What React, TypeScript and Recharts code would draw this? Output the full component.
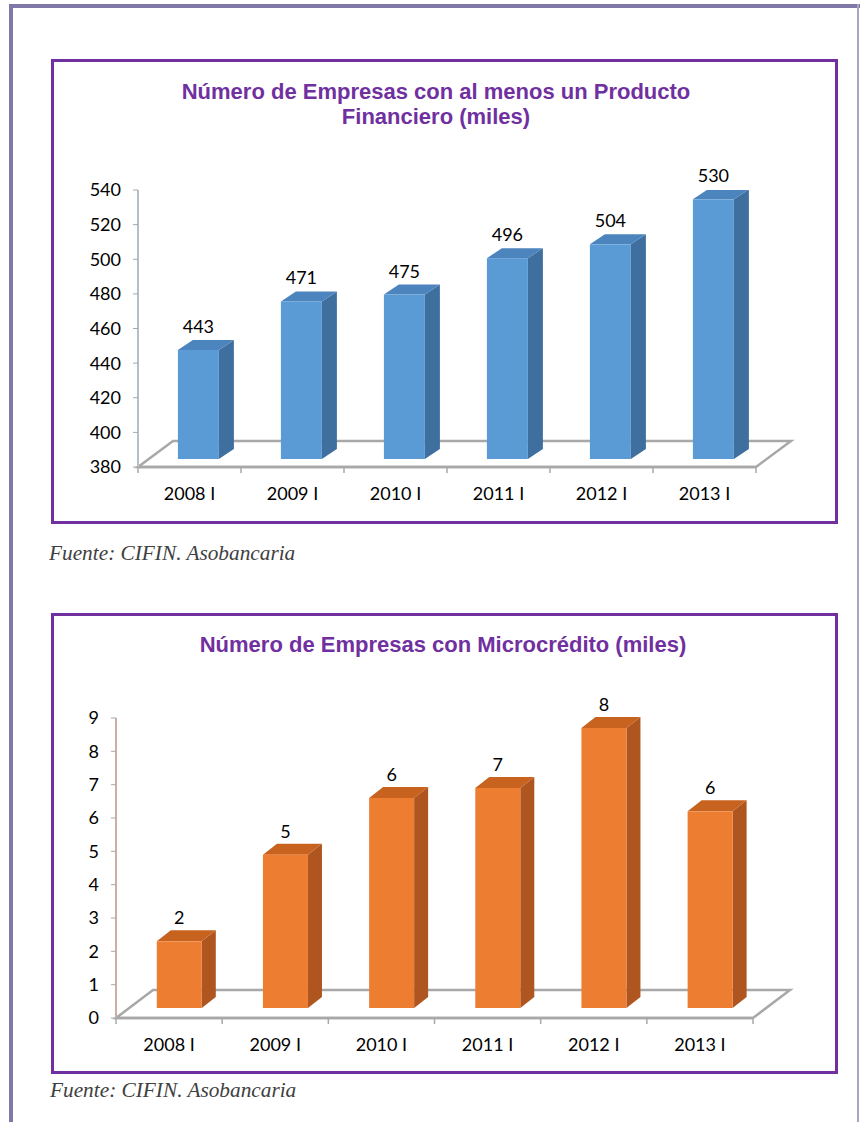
import React from 'react';
import { BarChart, Bar, XAxis, YAxis, ReferenceLine, LabelList } from 'recharts';

const categories = ['2008 I', '2009 I', '2010 I', '2011 I', '2012 I', '2013 I'];
const empresasProducto = [443, 471, 475, 496, 504, 530];
const empresasMicrocredito = [2.0, 4.6, 6.3, 6.6, 8.4, 5.9];
const ticksProducto = [380, 400, 420, 440, 460, 480, 500, 520, 540];
const ticksMicro = [0, 1, 2, 3, 4, 5, 6, 7, 8, 9];

const title1a = 'Número de Empresas con al menos un Producto';
const title1b = 'Financiero (miles)';
const title2 = 'Número de Empresas con Microcrédito (miles)';
const fuente = 'Fuente: CIFIN. Asobancaria';

const data1 = categories.map((c, i) => ({ cat: c, v: empresasProducto[i] }));
const data2 = categories.map((c, i) => ({ cat: c, v: empresasMicrocredito[i] }));

const PURPLE = '#7030A0';
const FONT = 'Lato, "Open Sans", sans-serif';

type Geo = { ox: number; oy: number; dx: number; dy: number; front: string; side: string; top: string };

const make3DBar = (g: Geo) => (props: any) => {
  const { x, y, width, height } = props;
  if (x == null || width == null || height == null) return null;
  const fx = x + g.ox;
  const fy = y + g.oy;
  const bottom = fy + height;
  const r = fx + width;
  return (
    <g>
      <polygon
        points={`${r},${fy} ${r + g.dx},${fy + g.dy} ${r + g.dx},${bottom + g.dy} ${r},${bottom}`}
        fill={g.side}
      />
      <polygon
        points={`${fx},${fy} ${fx + g.dx},${fy + g.dy} ${r + g.dx},${fy + g.dy} ${r},${fy}`}
        fill={g.top}
      />
      <rect x={fx} y={fy} width={width} height={height} fill={g.front} />
    </g>
  );
};

const makeLabel = (g: Geo) => (props: any) => {
  const { x, y, width, value } = props;
  if (x == null) return null;
  return (
    <text
      x={x + g.ox + width / 2}
      y={y + g.oy - 17}
      textAnchor="middle"
      fontSize={18}
      fontFamily={FONT}
      fill="#000"
    >
      {Math.round(Number(value))}
    </text>
  );
};

const makeFloor = (dx: number, dy: number) => (props: any) => {
  const { x1, y1, x2, y2 } = props;
  if (x1 == null) return null;
  return (
    <polygon
      points={`${x1},${y1} ${x1 + dx},${y1 + dy} ${x2 + dx},${y2 + dy} ${x2},${y2}`}
      fill="none"
      stroke="#a8a8a8"
      strokeWidth={2.5}
    />
  );
};

const makeXTick = (fallbackHalf: number, last: number) => (props: any) => {
  const { x, y, payload, index } = props;
  const half = payload && payload.offset ? payload.offset : fallbackHalf;
  return (
    <g>
      <line x1={x - half} y1={y} x2={x - half} y2={y + 6} stroke="#a8a8a8" strokeWidth={1.5} />
      {index === last && (
        <line x1={x + half} y1={y} x2={x + half} y2={y + 6} stroke="#a8a8a8" strokeWidth={1.5} />
      )}
      <text x={x} y={y + 33} textAnchor="middle" fontSize={18} fontFamily={FONT} fill="#000">
        {payload.value}
      </text>
    </g>
  );
};

const geo1: Geo = { ox: 9, oy: -8, dx: 15, dy: -10, front: '#5B9BD5', side: '#3F6F9E', top: '#4C84BE' };
const geo2: Geo = { ox: 10, oy: -10, dx: 14, dy: -11, front: '#ED7D31', side: '#AE5520', top: '#C7631F' };

const abs = (l: number, t: number, w: number, h: number): React.CSSProperties => ({
  position: 'absolute',
  left: l,
  top: t,
  width: w,
  height: h,
});

const titleStyle: React.CSSProperties = {
  textAlign: 'center',
  color: PURPLE,
  fontFamily: '"Liberation Sans", Arial, sans-serif',
  fontWeight: 'bold',
  fontSize: 22,
  lineHeight: '25px',
};

const fuenteStyle: React.CSSProperties = {
  fontFamily: '"Liberation Serif", "Times New Roman", serif',
  fontStyle: 'italic',
  fontSize: 21.3,
  lineHeight: '24px',
  color: '#404040',
};

export default function App() {
  return (
    <div style={{ position: 'absolute', left: 0, top: 0, width: 860, height: 1122, background: '#fff', overflow: 'hidden' }}>
      {/* page frame */}
      <div style={{ ...abs(9, 4, 851, 4), background: '#8078A8' }} />
      <div style={{ ...abs(9, 4, 4, 1118), background: '#8078A8' }} />
      <div style={{ ...abs(857, 4, 2, 1118), background: '#A9A3C6' }} />

      {/* chart 1 box */}
      <div style={{ ...abs(51, 59, 787, 465), border: `3px solid ${PURPLE}`, boxSizing: 'border-box' }} />
      <div style={{ ...abs(136, 79, 600, 60), ...titleStyle }}>
        <div>{title1a}</div>
        <div>{title1b}</div>
      </div>
      <div style={{ ...abs(52, 60, 785, 463) }}>
        <BarChart
          width={785}
          height={463}
          data={data1}
          margin={{ top: 130, right: 81, bottom: 26, left: 26 }}
          barCategoryGap="30%"
          style={{ fontFamily: FONT }}
        >
          <XAxis
            dataKey="cat"
            height={30}
            interval={0}
            axisLine={{ stroke: '#a8a8a8', strokeWidth: 2.5 }}
            tickLine={false}
            tickSize={0}
            tickMargin={0}
            tick={makeXTick(51.25, categories.length - 1)}
          />
          <YAxis
            width={60}
            domain={[380, 540]}
            ticks={ticksProducto}
            interval={0}
            allowDataOverflow
            axisLine={{ stroke: '#B3BFCB', strokeWidth: 2 }}
            tickLine={{ stroke: '#a8a8a8' }}
            tickSize={5}
            tickMargin={12}
            tick={{ fill: '#000', fontSize: 18, fontFamily: FONT }}
          />
          <ReferenceLine y={380} ifOverflow="visible" shape={makeFloor(35, -26)} zIndex={0} />
          <Bar dataKey="v" isAnimationActive={false} shape={make3DBar(geo1)}>
            <LabelList dataKey="v" content={makeLabel(geo1)} />
          </Bar>
        </BarChart>
      </div>
      <div style={{ ...abs(49, 541, 400, 24), ...fuenteStyle }}>{fuente}</div>

      {/* chart 2 box */}
      <div style={{ ...abs(51, 613, 787, 461), border: `3px solid ${PURPLE}`, boxSizing: 'border-box' }} />
      <div style={{ ...abs(143, 632, 600, 30), ...titleStyle }}>{title2}</div>
      <div style={{ ...abs(52, 614, 785, 459) }}>
        <BarChart
          width={785}
          height={459}
          data={data2}
          margin={{ top: 104, right: 84, bottom: 25, left: 14 }}
          barCategoryGap="29%"
          style={{ fontFamily: FONT }}
        >
          <XAxis
            dataKey="cat"
            height={30}
            interval={0}
            axisLine={{ stroke: '#a8a8a8', strokeWidth: 2.5 }}
            tickLine={false}
            tickSize={0}
            tickMargin={0}
            tick={makeXTick(53, categories.length - 1)}
          />
          <YAxis
            width={50}
            domain={[0, 9]}
            ticks={ticksMicro}
            interval={0}
            axisLine={{ stroke: '#C9B0A2', strokeWidth: 2 }}
            tickLine={{ stroke: '#a8a8a8' }}
            tickSize={5}
            tickMargin={12}
            tick={{ fill: '#000', fontSize: 18, fontFamily: FONT }}
          />
          <ReferenceLine y={0} ifOverflow="visible" shape={makeFloor(37, -28)} zIndex={0} />
          <Bar dataKey="v" isAnimationActive={false} shape={make3DBar(geo2)}>
            <LabelList dataKey="v" content={makeLabel(geo2)} />
          </Bar>
        </BarChart>
      </div>
      <div style={{ ...abs(50, 1078, 400, 24), ...fuenteStyle }}>{fuente}</div>
    </div>
  );
}
